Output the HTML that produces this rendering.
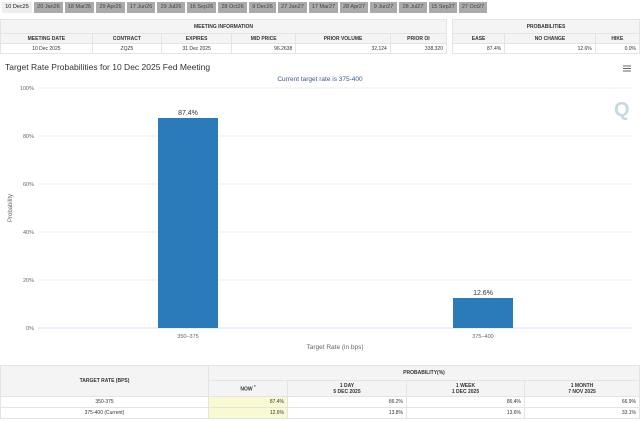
<!DOCTYPE html>
<html><head><style>
body{margin:0;width:640px;height:421px;background:#fff;font-family:"Liberation Sans",sans-serif;position:relative;overflow:hidden}
.tab{position:absolute;top:2px;height:11px;background:#aaa;color:#444;font-size:5.5px;line-height:11px;text-align:center}
table{border-collapse:collapse;position:absolute;font-size:5px;color:#333}
td{border:1px solid #e4e4e4;text-align:center;padding:0}
.b{font-weight:bold}
.r{text-align:right;padding-right:3px}
</style></head><body>
<div class="tab" style="left:2px;width:30px;background:#eee;color:#111">10 Dec25</div>
<div class="tab" style="left:34px;width:29px">20 Jan26</div>
<div class="tab" style="left:65px;width:29px">18 Mar26</div>
<div class="tab" style="left:96px;width:29px">29 Apr26</div>
<div class="tab" style="left:127px;width:28px">17 Jun26</div>
<div class="tab" style="left:157px;width:28px">29 Jul26</div>
<div class="tab" style="left:187px;width:29px">16 Sep26</div>
<div class="tab" style="left:218px;width:29px">28 Oct26</div>
<div class="tab" style="left:249px;width:27px">9 Dec26</div>
<div class="tab" style="left:278px;width:29px">27 Jan27</div>
<div class="tab" style="left:309px;width:29px">17 Mar27</div>
<div class="tab" style="left:340px;width:28px">28 Apr27</div>
<div class="tab" style="left:370px;width:27px">9 Jun27</div>
<div class="tab" style="left:399px;width:28px">28 Jul27</div>
<div class="tab" style="left:429px;width:28px">15 Sep27</div>
<div class="tab" style="left:459px;width:28px">27 Oct27</div>

<table style="left:0;top:19px;width:447px">
<tr style="height:14px;background:#f4f4f4"><td colspan="6" class="b">MEETING INFORMATION</td></tr>
<tr style="height:10px;background:#f4f4f4" class="b"><td class="b">MEETING DATE</td><td class="b">CONTRACT</td><td class="b">EXPIRES</td><td class="b">MID PRICE</td><td class="b">PRIOR VOLUME</td><td class="b">PRIOR OI</td></tr>
<tr style="height:10px"><td>10 Dec 2025</td><td>ZQZ5</td><td>31 Dec 2025</td><td class="r">96.2638</td><td class="r">32,124</td><td class="r">338,320</td></tr>
</table>
<table style="left:452px;top:19px;width:188px">
<tr style="height:14px;background:#f4f4f4"><td colspan="3" class="b">PROBABILITIES</td></tr>
<tr style="height:10px;background:#f4f4f4"><td class="b">EASE</td><td class="b">NO CHANGE</td><td class="b">HIKE</td></tr>
<tr style="height:10px"><td class="r">87.4%</td><td class="r">12.6%</td><td class="r">0.0%</td></tr>
</table>

<svg style="position:absolute;left:0;top:58px" width="640" height="300" font-family="Liberation Sans,sans-serif">
<text x="5" y="12" font-size="8.5" fill="#333">Target Rate Probabilities for 10 Dec 2025 Fed Meeting</text>
<text x="320" y="23" font-size="6.5" fill="#3a5a8c" text-anchor="middle">Current target rate is 375-400</text>
<g stroke="#666" stroke-width="1"><line x1="623" y1="8" x2="631" y2="8"/><line x1="623" y1="10.5" x2="631" y2="10.5"/><line x1="623" y1="13" x2="631" y2="13"/></g>
<g stroke="#e6e6e6" stroke-width="0.7">
<line x1="38" y1="30" x2="632" y2="30"/><line x1="38" y1="78" x2="632" y2="78"/><line x1="38" y1="126" x2="632" y2="126"/><line x1="38" y1="174" x2="632" y2="174"/><line x1="38" y1="222" x2="632" y2="222"/></g>
<line x1="38" y1="270" x2="632" y2="270" stroke="#ccd6eb" stroke-width="0.8"/>
<g font-size="5.5" fill="#666" text-anchor="end">
<text x="34" y="32">100%</text><text x="34" y="80">80%</text><text x="34" y="128">60%</text><text x="34" y="176">40%</text><text x="34" y="224">20%</text><text x="34" y="272">0%</text></g>
<text transform="translate(12,150) rotate(-90)" font-size="6" fill="#666" text-anchor="middle">Probability</text>
<text x="614" y="58" font-size="20" fill="#c8d8e0" font-weight="bold">Q</text>
<rect x="158" y="60" width="60" height="210" fill="#2b7bba"/>
<rect x="453" y="240" width="60" height="30" fill="#2b7bba"/>
<text x="188" y="57" font-size="7" fill="#333" text-anchor="middle">87.4%</text>
<text x="483" y="237" font-size="7" fill="#333" text-anchor="middle">12.6%</text>
<text x="188" y="280" font-size="5.5" fill="#666" text-anchor="middle">350–375</text>
<text x="483" y="280" font-size="5.5" fill="#666" text-anchor="middle">375–400</text>
<text x="335" y="291" font-size="6.5" fill="#666" text-anchor="middle">Target Rate (in bps)</text>
</svg>

<table style="left:0;top:365px;width:640px">
<tr style="height:15px;background:#f4f4f4"><td rowspan="2" class="b" style="width:207px">TARGET RATE (BPS)</td><td colspan="4" class="b">PROBABILITY(%)</td></tr>
<tr style="height:16px;background:#f4f4f4"><td class="b" style="width:78px">NOW <sup>*</sup></td><td class="b" style="width:118px">1 DAY<br>5 DEC 2025</td><td class="b" style="width:117px">1 WEEK<br>1 DEC 2025</td><td class="b">1 MONTH<br>7 NOV 2025</td></tr>
<tr style="height:11px"><td>350-375</td><td class="r" style="background:#fafad2">87.4%</td><td class="r">86.2%</td><td class="r">86.4%</td><td class="r">66.9%</td></tr>
<tr style="height:11px"><td>375-400 (Current)</td><td class="r" style="background:#fafad2">12.6%</td><td class="r">13.8%</td><td class="r">13.6%</td><td class="r">33.1%</td></tr>
</table>
</body></html>
